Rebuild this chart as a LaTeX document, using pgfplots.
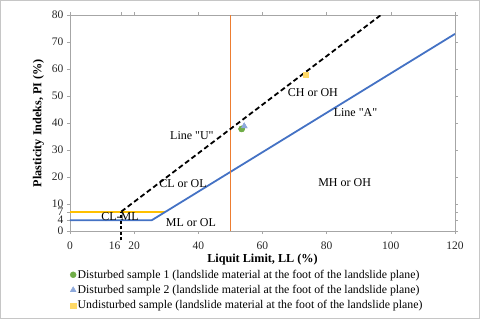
\documentclass[border=0pt]{standalone}
\usepackage{pgfplots}
\pgfplotsset{compat=1.18}
\usepackage{fontspec}
\setmainfont{Liberation Serif}
\definecolor{xblue}{HTML}{4472C4}
\definecolor{xorange}{HTML}{ED7D31}
\definecolor{xyellow}{HTML}{FFC000}
\definecolor{xgreen}{HTML}{70AD47}
\definecolor{xlblue}{HTML}{8EA9DB}
\definecolor{xlyellow}{HTML}{FFD966}
\begin{document}
\begin{tikzpicture}
\path[use as bounding box] (-70pt,-88pt) rectangle (410pt,231pt);
\draw[gray!45,line width=0.8pt] (-69.6pt,-87.6pt) rectangle (409.6pt,230.6pt);
\begin{axis}[
  at={(0,0)}, anchor=south west,
  scale only axis, width=385pt, height=216pt,
  xmin=0, xmax=120, ymin=0, ymax=80,
  xtick={0,16,20,40,60,80,100,120},
  xticklabels={0,\llap{16\kern1pt},20,40,60,80,100,120},
  ytick={0,4,7,10,20,30,40,50,60,70,80},
  tick align=outside, tick style={gray!70, thin}, major tick length=3pt,
  axis line style={gray!70, thin},
  tick label style={font=\fontsize{11.5}{13}\selectfont, text=black!85},
  xticklabel style={yshift=-4pt},
  /pgf/number format/assume math mode=true,
  xlabel={\textbf{Liquit Limit, LL (\%)}},
  ylabel={\textbf{Plasticity Indeks, PI (\%)}},
  label style={font=\fontsize{12.2}{14}\selectfont},
  xlabel style={yshift=0pt, inner sep=1pt},
  ylabel style={yshift=1pt},
  legend style={draw=none, fill=none, at={(0,-0.172)}, anchor=north west,
    font=\fontsize{11.8}{13}\selectfont, inner sep=0pt, row sep=2.5pt,
    nodes={inner sep=1.5pt}},
  legend cell align=left,
  clip mode=individual,
]
\addplot[only marks, mark=*, mark size=3pt, color=xgreen] coordinates {(53.5,37.8)};
\addlegendentry{Disturbed sample 1 (landslide material at the foot of the landslide plane)}
\addplot[only marks, mark=triangle*, mark size=3.4pt, color=xlblue] coordinates {(54.3,38.8)};
\addlegendentry{Disturbed sample 2 (landslide material at the foot of the landslide plane)}
\addplot[only marks, mark=square*, mark size=2.6pt, color=xlyellow] coordinates {(73.5,57.8)};
\addlegendentry{Undisturbed sample (landslide material at the foot of the landslide plane)}
\addplot[forget plot, xyellow, line width=1.8pt] coordinates {(0,7) (29.6,7)};
\addplot[forget plot, xblue, line width=1.8pt] coordinates {(0,4) (25.5,4) (120,73)};
\addplot[forget plot, xorange, line width=1.8pt] coordinates {(50,0) (50,80)};
\addplot[forget plot, black, line width=1.8pt, dash pattern=on 5pt off 3pt] coordinates {(16,7.2) (96.9,80)};
\addplot[forget plot, black, line width=1.8pt, dash pattern=on 3pt off 2.5pt, clip=false] coordinates {(16,-3.5) (16,7.2)};
\addplot[forget plot, only marks, mark=*, mark size=3pt, color=xgreen] coordinates {(53.5,37.8)};
\addplot[forget plot, only marks, mark=triangle*, mark size=3.4pt, color=xlblue] coordinates {(54.3,38.8)};
\addplot[forget plot, only marks, mark=square*, mark size=2.6pt, color=xlyellow] coordinates {(73.5,57.8)};
\begin{scope}[font=\fontsize{12}{14}\selectfont]
\node at (axis cs:38,35.2) {Line \textquotedbl U\textquotedbl};
\node at (axis cs:89,43.7) {Line \textquotedbl A\textquotedbl};
\node at (axis cs:75.7,51.1) {CH or OH};
\node at (axis cs:35.2,17.4) {CL or OL};
\node at (axis cs:85.6,18.1) {MH or OH};
\node at (axis cs:37.7,3.0) {ML or OL};
\node at (axis cs:15.6,5.3) {CL-ML};
\end{scope}
\end{axis}
\end{tikzpicture}
\end{document}
